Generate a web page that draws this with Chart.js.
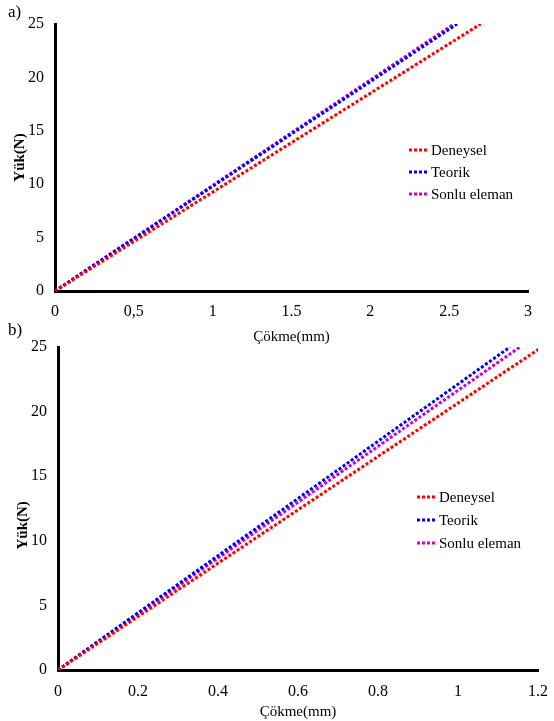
<!DOCTYPE html>
<html>
<head>
<meta charset="utf-8">
<script src="https://cdn.jsdelivr.net/npm/chart.js@4/dist/chart.umd.min.js"></script>
<style>
  body { margin: 0; background: #fff; font-family: "Liberation Serif", serif; }
  #wrap { position: relative; width: 554px; height: 721px; }
  .box { position: absolute; left: 0; width: 554px; }
  .tag { position: absolute; left: 8px; font-size: 17px; color: #000; }
</style>
</head>
<body>
<div id="wrap">
  <div class="box" style="top:0;height:346px"><canvas id="chartA"></canvas></div>
  <div class="box" style="top:320px;height:401px"><canvas id="chartB"></canvas></div>
  <div class="tag" style="top:2px">a)</div>
  <div class="tag" style="top:320px">b)</div>
</div>
<script>
// series names
var seriesNames = ["Deneysel", "Teorik", "Sonlu eleman"];

// load values (N) shared by every line
var load = [0, 25];

// a) deflection (mm)
var a_deneysel = [0, 2.70];
var a_teorik = [0, 2.55];
var a_sonlu = [0, 2.53];
var a_xTicks = ["0", "0,5", "1", "1.5", "2", "2.5", "3"];

// b) deflection (mm)
var b_deneysel = [0, 1.21];
var b_teorik = [0, 1.13];
var b_sonlu = [0, 1.155];
var b_xTicks = ["0", "0.2", "0.4", "0.6", "0.8", "1", "1.2"];

var yTicks = ["0", "5", "10", "15", "20", "25"];

var colors = ["#ff0000", "#0000ff", "#cc00cc"];
var serif = "'Liberation Serif', 'Times New Roman', serif";

function pts(xs) {
  return xs.map(function (x, i) { return { x: x, y: load[i] }; });
}

// legend drawn inside the plot, like the original figure
var dotLegend = {
  id: "dotLegend",
  afterDraw: function (chart, args, opts) {
    var ctx = chart.ctx;
    ctx.save();
    ctx.font = "15px " + serif;
    ctx.textBaseline = "middle";
    chart.data.datasets.forEach(function (ds, i) {
      var y = opts.y + i * opts.gap;
      ctx.strokeStyle = ds.borderColor;
      ctx.lineWidth = 3;
      ctx.setLineDash([3, 2]);
      ctx.beginPath();
      ctx.moveTo(opts.x, y);
      ctx.lineTo(opts.x + 20, y);
      ctx.stroke();
      ctx.setLineDash([]);
      ctx.fillStyle = "#000";
      ctx.fillText(ds.label, opts.x + 22, y + 1);
    });
    ctx.restore();
  },
};

function makeChart(id, series, xTicks, xMax, xStep, cfg) {
  return new Chart(document.getElementById(id), {
    type: "scatter",
    data: {
      datasets: series.map(function (s, i) {
        return {
          label: seriesNames[i],
          data: pts(s),
          showLine: true,
          borderColor: colors[i],
          backgroundColor: colors[i],
          borderWidth: 3,
          borderDash: [3, 2],
          pointRadius: 0,
        };
      }),
    },
    plugins: [dotLegend],
    options: {
      responsive: true,
      maintainAspectRatio: false,
      animation: false,
      layout: { padding: { top: cfg.top, right: cfg.right, left: 0, bottom: 0 } },
      plugins: {
        legend: { display: false },
        tooltip: { enabled: false },
        dotLegend: cfg.legend,
      },
      scales: {
        x: {
          type: "linear",
          min: 0,
          max: xMax,
          grid: { display: false },
          border: { display: true, color: "#000", width: 3 },
          afterFit: function (scale) { scale.height = cfg.xHeight; },
          ticks: {
            stepSize: xStep,
            padding: cfg.xPad,
            color: "#000",
            font: { family: serif, size: 16 },
            maxRotation: 0,
            callback: function (v, i) { return xTicks[i]; },
          },
          title: {
            display: true,
            text: "Çökme(mm)",
            color: "#000",
            font: { family: serif, size: 15 },
            padding: { top: 0, bottom: 0 },
          },
        },
        y: {
          type: "linear",
          min: 0,
          max: 25,
          grid: { display: false },
          border: { display: true, color: "#000", width: 3 },
          afterFit: function (scale) { scale.width = cfg.yWidth; },
          ticks: {
            stepSize: 5,
            padding: 3,
            color: "#000",
            font: { family: serif, size: 16 },
            callback: function (v, i) { return yTicks[i]; },
          },
          title: {
            display: true,
            text: cfg.yTitle,
            color: "#000",
            font: { family: serif, size: 15, weight: "bold" },
            padding: { top: cfg.yTitlePad, bottom: 0 },
          },
        },
      },
    },
  });
}

makeChart("chartA", [a_deneysel, a_teorik, a_sonlu], a_xTicks, 3, 0.5, {
  top: 24, right: 26, xHeight: 55, yWidth: 55, xPad: 3, yTitlePad: 11,
  yTitle: "Yük(N)",
  legend: { x: 409, y: 150, gap: 22 },
});

makeChart("chartB", [b_deneysel, b_teorik, b_sonlu], b_xTicks, 1.2, 0.2, {
  top: 27, right: 16, xHeight: 51, yWidth: 58, xPad: 4, yTitlePad: 14,
  yTitle: "Yük(N)         ",
  legend: { x: 417, y: 177, gap: 23 },
});
</script>
</body>
</html>
